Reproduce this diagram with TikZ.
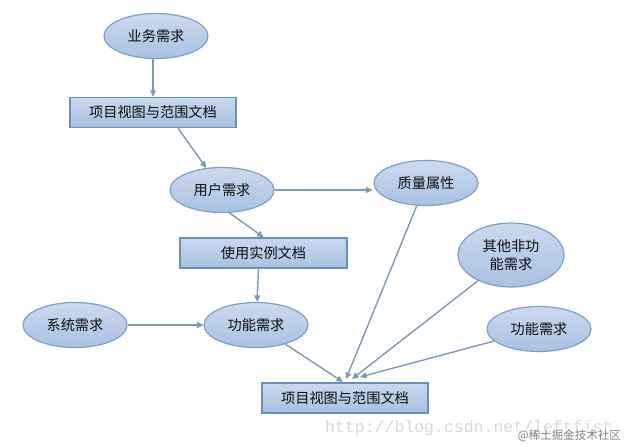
\documentclass[tikz,border=0pt]{standalone}
\usepackage{fontspec}
\newfontfamily\cjk{Noto Sans CJK SC}
\newfontfamily\wmono{Liberation Mono}
\usetikzlibrary{shapes.geometric,arrows.meta,calc}
\definecolor{ellfillA}{HTML}{CBDAEE}
\definecolor{ellfillB}{HTML}{A9C1E2}
\definecolor{ellline}{HTML}{7F9FC9}
\definecolor{boxfillA}{HTML}{C8D9EF}
\definecolor{boxfillB}{HTML}{A8C0E0}
\definecolor{boxline}{HTML}{6A8FBE}
\definecolor{arrcol}{HTML}{7F99B2}
\definecolor{txtcol}{HTML}{101010}
\tikzset{
  ell/.style={ellipse, draw=ellline, line width=1.2pt, top color=ellfillA, bottom color=ellfillB,
    minimum width=104pt, minimum height=45pt, inner sep=0pt, text=txtcol,
    font=\cjk\fontsize{14.2}{17.5}\selectfont, align=center},
  docbox/.style={rectangle, draw=boxline, line width=1.4pt, top color=boxfillA, bottom color=boxfillB,
    minimum width=166pt, minimum height=30pt, inner sep=0pt, text=txtcol,
    font=\cjk\fontsize{14.2}{17.5}\selectfont},
  arr/.style={draw=arrcol, line width=1.4pt, -{Triangle[length=6.5pt,width=6pt]}},
}
\begin{document}
\begin{tikzpicture}[x=1pt,y=-1pt]
\useasboundingbox[fill=white] (0,0) rectangle (627,447);
\node[ell] (biz) at (156,36) {业务需求};
\node[docbox] (box1) at (153,112.5) {项目视图与范围文档};
\node[ell] (user) at (222,190) {用户需求};
\node[ell] (qual) at (426,183) {质量属性};
\node[docbox, minimum width=167pt] (box2) at (263.5,253) {使用实例文档};
\node[ell, minimum height=64pt, minimum width=106pt] (other) at (511,255) {其他非功\\能需求};
\node[ell] (sys) at (75,325) {系统需求};
\node[ell] (f1) at (256,325) {功能需求};
\node[ell] (f2) at (539,329) {功能需求};
\node[docbox] (box3) at (345,398) {项目视图与范围文档};

\coordinate (t1) at (343,382);
\coordinate (t2) at (346,379);
\coordinate (t3) at (352,379);
\coordinate (t4) at (360,377);

\draw[arr] (biz.south -| box1.north) -- (box1.north);
\draw[arr] ($(box1.south)+(25,0)$) -- (user);
\draw[arr] (user.east) -- ($(user.east -| qual.west)+(-1,0)$);
\draw[arr] (user.-72) -- (box2.north);
\draw[arr] ($(box2.south)+(-5,0)$) -- (f1);
\draw[arr] (sys) -- (f1);
\draw[arr] (f1) -- (t1);
\draw[arr] (qual) -- (t2);
\draw[arr] (other) -- (t3);
\draw[arr] (f2) -- (t4);

\node[font=\wmono\fontsize{16.5}{18}\selectfont, text=black!15, anchor=west, inner sep=0pt] (url) at (325,428) {http://blog.csdn.net/leftfist};
\node[font=\cjk\fontsize{11.5}{13}\selectfont, text=black!50, fill=white, fill opacity=0.6, text opacity=1, anchor=east, inner sep=1pt] (wm) at (622,436) {@稀土掘金技术社区};
\end{tikzpicture}
\end{document}
